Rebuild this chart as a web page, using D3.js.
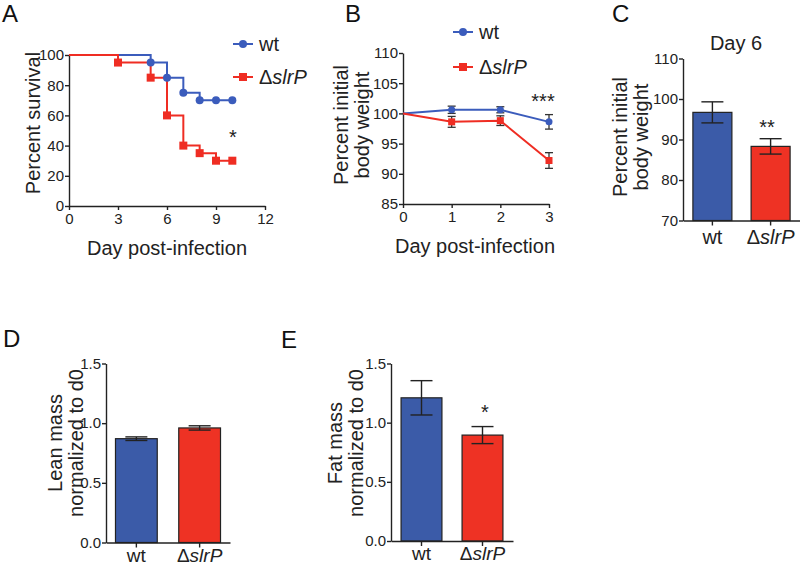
<!DOCTYPE html>
<html><head><meta charset="utf-8">
<script src="https://cdn.jsdelivr.net/npm/d3@7"></script>
<style>
html,body{margin:0;padding:0;background:#fff;}
svg{display:block;font-family:"Liberation Sans",Arial,Helvetica,sans-serif;}
</style></head>
<body>
<svg id="fig" width="800" height="568"></svg>
<script>
// ---------- data ----------
// A: survival
const wtSurvDays  = [0, 5, 6, 7, 8, 9, 10];
const wtSurv      = [100, 95, 85, 75, 70, 70, 70];
const mutSurvDays = [0, 3, 5, 6, 7, 8, 9, 10];
const mutSurv     = [100, 95, 85, 60, 40, 35, 30, 30];
const survXTicks  = [0, 3, 6, 9, 12];
const survYTicks  = [0, 20, 40, 60, 80, 100];
// B: body weight over time
const weightDays  = [0, 1, 2, 3];
const wtWeight    = [100, 100.6, 100.6, 98.6];
const wtWeightErr = [0, 0.6, 0.5, 1.2];
const mutWeight   = [100, 98.6, 98.8, 92.2];
const mutWeightErr= [0, 0.9, 0.8, 1.3];
const weightYTicks= [85, 90, 95, 100, 105, 110];
// groups
const groups      = ["wt", "ΔslrP"];
// C: day 6 weight
const day6Weight  = [96.7, 88.3];
const day6Err     = [2.6, 1.9];
const day6YTicks  = [70, 80, 90, 100, 110];
// D: lean mass
const leanMass    = [0.87, 0.96];
const leanErr     = [0.015, 0.018];
// E: fat mass
const fatMass     = [1.21, 0.895];
const fatErr      = [0.145, 0.072];
const massYTicks  = [0, 0.5, 1.0, 1.5];

// ---------- style ----------
const BLUE_LINE = "#3b5cbc", RED_LINE = "#ef2d23";
const BLUE_BAR = "#3b5ba8", RED_BAR = "#ee3224";
const AXIS = "#222";
const FONT_TICK = 15, FONT_TITLE = 20, FONT_LEG = 20;

const svg = d3.select("#fig");

function styleAxis(g, fs){
  g.select(".domain").attr("stroke", AXIS).attr("stroke-width", 1.4);
  g.selectAll(".tick line").attr("stroke", AXIS).attr("stroke-width", 1.4);
  g.selectAll(".tick text").attr("fill", "#222").style("font-size", fs + "px")
    .style("font-family", '"Liberation Sans",Arial,sans-serif');
}
function groupLabel(sel, txt){
  sel.text(null);
  if (txt.startsWith("Δ")) {
    sel.append("tspan").text("Δ");
    sel.append("tspan").style("font-style", "italic").text(txt.slice(1));
  } else sel.text(txt);
}
function panelLabel(t, x, y){
  svg.append("text").attr("x", x).attr("y", y).text(t)
    .style("font-size", "24px").attr("fill", "#111");
}
function yTitle(lines, xs, yc){
  lines.forEach((l, i) => {
    svg.append("text")
      .attr("transform", `translate(${xs[i]},${yc}) rotate(-90)`)
      .attr("text-anchor", "middle").attr("dy", "0.35em")
      .style("font-size", FONT_TITLE + "px").attr("fill", "#222").text(l);
  });
}
function star(txt, x, y){
  svg.append("text").attr("x", x).attr("y", y).attr("text-anchor", "middle")
    .style("font-size", "20px").attr("fill", "#222").text(txt);
}
function legend(x0, y, color, shape, label){
  const g = svg.append("g");
  g.append("line").attr("x1", x0).attr("x2", x0 + 20).attr("y1", y).attr("y2", y)
    .attr("stroke", color).attr("stroke-width", 2);
  if (shape === "circle")
    g.append("circle").attr("cx", x0 + 10).attr("cy", y).attr("r", 4).attr("fill", color);
  else
    g.append("rect").attr("x", x0 + 6).attr("y", y - 4).attr("width", 8).attr("height", 8).attr("fill", color);
  const t = g.append("text").attr("x", x0 + 26).attr("y", y).attr("dy", "0.35em")
    .style("font-size", FONT_LEG + "px").attr("fill", "#222");
  groupLabel(t, label);
}

// ---------- Panel A ----------
(function(){
  const x = d3.scaleLinear().domain([0, 12]).range([69, 265]);
  const y = d3.scaleLinear().domain([0, 100]).range([206, 55]);
  const gx = svg.append("g").attr("transform", "translate(0,206)")
    .call(d3.axisBottom(x).tickValues(survXTicks).tickSize(4).tickSizeOuter(0).tickPadding(3));
  styleAxis(gx, FONT_TICK);
  const gy = svg.append("g").attr("transform", "translate(69,0)")
    .call(d3.axisLeft(y).tickValues(survYTicks).tickSize(4).tickSizeOuter(0).tickPadding(1));
  styleAxis(gy, FONT_TICK);

  const line = d3.line().x(d => x(d[0])).y(d => y(d[1])).curve(d3.curveStepAfter);
  const wt = wtSurvDays.map((d, i) => [d, wtSurv[i]]);
  const mut = mutSurvDays.map((d, i) => [d, mutSurv[i]]);
  svg.append("path").datum(wt).attr("d", line).attr("fill", "none")
    .attr("stroke", BLUE_LINE).attr("stroke-width", 2);
  svg.append("path").datum(mut).attr("d", line).attr("fill", "none")
    .attr("stroke", RED_LINE).attr("stroke-width", 2);
  svg.selectAll(".aw").data(wt.filter(d => d[0] > 0)).enter().append("circle")
    .attr("cx", d => x(d[0])).attr("cy", d => y(d[1])).attr("r", 4).attr("fill", BLUE_LINE);
  svg.selectAll(".am").data(mut.filter(d => d[0] > 0)).enter().append("rect")
    .attr("x", d => x(d[0]) - 4).attr("y", d => y(d[1]) - 4).attr("width", 8).attr("height", 8)
    .attr("fill", RED_LINE);

  svg.append("text").attr("x", 167).attr("y", 255).attr("text-anchor", "middle")
    .style("font-size", FONT_TITLE + "px").attr("fill", "#222").text("Day post-infection");
  yTitle(["Percent survival"], [33], 123);
  legend(233, 44, BLUE_LINE, "circle", "wt");
  legend(233, 77, RED_LINE, "rect", "ΔslrP");
  star("*", 233, 144);
  panelLabel("A", 2, 22);
})();

// ---------- Panel B ----------
(function(){
  const x = d3.scaleLinear().domain([0, 3]).range([403, 549]);
  const y = d3.scaleLinear().domain([85, 110]).range([204, 53]);
  const gx = svg.append("g").attr("transform", "translate(0,204)")
    .call(d3.axisBottom(x).tickValues(weightDays).tickFormat(d3.format("d"))
      .tickSize(4).tickSizeOuter(0).tickPadding(3));
  styleAxis(gx, FONT_TICK);
  const gy = svg.append("g").attr("transform", "translate(403,0)")
    .call(d3.axisLeft(y).tickValues(weightYTicks).tickSize(4).tickSizeOuter(0).tickPadding(1));
  styleAxis(gy, FONT_TICK);

  const series = [
    {v: wtWeight, e: wtWeightErr, c: BLUE_LINE, s: "circle"},
    {v: mutWeight, e: mutWeightErr, c: RED_LINE, s: "rect"}
  ];
  const line = d3.line().x(d => x(d.d)).y(d => y(d.v));
  series.forEach(s => {
    const pts = weightDays.map((d, i) => ({d, v: s.v[i], e: s.e[i]}));
    svg.append("path").datum(pts).attr("d", line).attr("fill", "none")
      .attr("stroke", s.c).attr("stroke-width", 2);
    const eb = pts.filter(p => p.e > 0);
    const g = svg.append("g").attr("stroke", "#333").attr("stroke-width", 1.3);
    eb.forEach(p => {
      const cx = x(p.d);
      g.append("line").attr("x1", cx).attr("x2", cx).attr("y1", y(p.v - p.e)).attr("y2", y(p.v + p.e));
      g.append("line").attr("x1", cx - 4).attr("x2", cx + 4).attr("y1", y(p.v - p.e)).attr("y2", y(p.v - p.e));
      g.append("line").attr("x1", cx - 4).attr("x2", cx + 4).attr("y1", y(p.v + p.e)).attr("y2", y(p.v + p.e));
    });
    eb.forEach(p => {
      if (s.s === "circle")
        svg.append("circle").attr("cx", x(p.d)).attr("cy", y(p.v)).attr("r", 3.5).attr("fill", s.c);
      else
        svg.append("rect").attr("x", x(p.d) - 3.5).attr("y", y(p.v) - 3.5).attr("width", 7).attr("height", 7).attr("fill", s.c);
    });
  });
  svg.append("text").attr("x", 475).attr("y", 253).attr("text-anchor", "middle")
    .style("font-size", FONT_TITLE + "px").attr("fill", "#222").text("Day post-infection");
  yTitle(["Percent initial", "body weight"], [341, 362], 125);
  legend(453, 32, BLUE_LINE, "circle", "wt");
  legend(453, 67, RED_LINE, "rect", "ΔslrP");
  star("***", 543, 108);
  panelLabel("B", 345, 22);
})();

// ---------- bar panels ----------
function barPanel(opt){
  const x = d3.scaleBand().domain(groups).range(opt.xr).paddingInner(opt.pi).paddingOuter(opt.po);
  const y = d3.scaleLinear().domain(opt.yd).range(opt.yr);
  const base = opt.yr[0];
  const colors = [BLUE_BAR, RED_BAR];
  groups.forEach((gname, i) => {
    svg.append("rect").attr("x", x(gname)).attr("y", y(opt.vals[i]))
      .attr("width", x.bandwidth()).attr("height", base - y(opt.vals[i]))
      .attr("fill", colors[i]).attr("stroke", "#222").attr("stroke-width", 1.2);
    const cx = x(gname) + x.bandwidth() / 2;
    const lo = y(opt.vals[i] - opt.errs[i]), hi = y(opt.vals[i] + opt.errs[i]);
    const hw = opt.cap;
    const g = svg.append("g").attr("stroke", "#222").attr("stroke-width", 1.4);
    g.append("line").attr("x1", cx).attr("x2", cx).attr("y1", lo).attr("y2", hi);
    g.append("line").attr("x1", cx - hw).attr("x2", cx + hw).attr("y1", lo).attr("y2", lo);
    g.append("line").attr("x1", cx - hw).attr("x2", cx + hw).attr("y1", hi).attr("y2", hi);
  });
  const gx = svg.append("g").attr("transform", `translate(0,${base})`)
    .call(d3.axisBottom(x).tickSize(5).tickSizeOuter(0).tickPadding(opt.xpad));
  styleAxis(gx, opt.xfs);
  gx.selectAll(".tick text").each(function(d){ groupLabel(d3.select(this), d); });
  const gy = svg.append("g").attr("transform", `translate(${opt.xr[0]},0)`)
    .call(d3.axisLeft(y).tickValues(opt.yt).tickSize(4).tickSizeOuter(0).tickPadding(1)
      .tickFormat(opt.fmt));
  styleAxis(gy, FONT_TICK);
  return {x, y};
}

// C
barPanel({xr: [683, 800], pi: 0.33, po: 0.17, yd: [70, 110], yr: [220.5, 58.5],
  vals: day6Weight, errs: day6Err, yt: day6YTicks, fmt: d3.format("d"), cap: 11, xpad: 4, xfs: 20});
svg.append("text").attr("x", 736).attr("y", 50).attr("text-anchor", "middle")
  .style("font-size", "20px").attr("fill", "#222").text("Day 6");
yTitle(["Percent initial", "body weight"], [620, 641], 137);
star("**", 767, 134);
panelLabel("C", 612, 22);

// D
barPanel({xr: [106, 230], pi: 0.34, po: 0.15, yd: [0, 1.5], yr: [542.5, 363.5],
  vals: leanMass, errs: leanErr, yt: massYTicks, fmt: d3.format(".1f"), cap: 11, xpad: 1, xfs: 19});
yTitle(["Lean mass", "normalized to d0"], [55, 76], 443);
panelLabel("D", 3, 347);

// E
barPanel({xr: [391, 513], pi: 0.33, po: 0.165, yd: [0, 1.5], yr: [541, 363.5],
  vals: fatMass, errs: fatErr, yt: massYTicks, fmt: d3.format(".1f"), cap: 11, xpad: 1, xfs: 19});
yTitle(["Fat mass", "normalized to d0"], [335, 356], 443);
star("*", 485, 419);
panelLabel("E", 281, 348);
</script>
</body></html>
